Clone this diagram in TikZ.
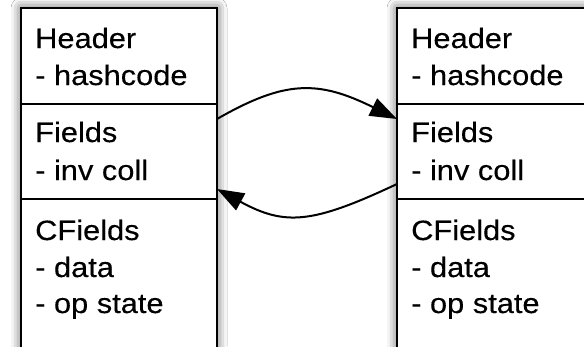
\documentclass[tikz,border=0pt]{standalone}
\usepackage{fontspec}
\setmainfont[FakeStretch=1.1,FakeBold=0.3]{Liberation Sans}
\usetikzlibrary{arrows.meta,shadows.blur}

\begin{document}
\begin{tikzpicture}[x=1pt,y=-1pt,
  objbox/.style={draw=black, line width=2pt, fill=white,
    blur shadow={shadow xshift=0pt, shadow yshift=0pt,
                 shadow blur radius=10pt, shadow opacity=70}},
  part/.style={rectangle, inner sep=0pt, outer sep=0pt},
  divider/.style={draw=black, line width=2pt},
  lbl/.style={anchor=base west, inner sep=0pt, font=\fontsize{28}{32}\selectfont},
  link/.style={draw=black, line width=2pt, -{Triangle[length=27pt,width=19pt]}}]

\useasboundingbox (0,0) rectangle (584,346);
\fill[white] (0,0) rectangle (584,346);

\begin{scope}
\clip (0,0) rectangle (584,346);

% left object: three stacked parts
\node[part, minimum width=196pt, minimum height=96pt]  (lhdr) at (119,56) {};
\node[part, minimum width=196pt, minimum height=95pt]  (lfld) at (119,151.5) {};
\node[part, minimum width=196pt, minimum height=171pt] (lcf)  at (119,284.5) {};

% right object, running past the right edge
\node[part, minimum width=213pt, minimum height=96pt]  (rhdr) at (503.5,56) {};
\node[part, minimum width=213pt, minimum height=95pt]  (rfld) at (503.5,151.5) {};
\node[part, minimum width=213pt, minimum height=171pt] (rcf)  at (503.5,284.5) {};

\path[objbox] (lhdr.north west) rectangle (lcf.south east);
\path[objbox] (rhdr.north west) rectangle (rcf.south east);

\draw[divider] (lfld.north west) -- (lfld.north east);
\draw[divider] (lcf.north west) -- (lcf.north east);
\draw[divider] (rfld.north west) -- (rfld.north east);
\draw[divider] (rcf.north west) -- (rcf.north east);

% left texts
\node[lbl] (lt1) at (35,48)  {Header};
\node[lbl] (lt2) at (35,85)  {- hashcode};
\node[lbl] (lt3) at (35,142) {Fields};
\node[lbl] (lt4) at (35,180) {- inv coll};
\node[lbl] (lt5) at (35,240) {CFields};
\node[lbl] (lt6) at (35,277) {- data};
\node[lbl] (lt7) at (35,313) {- op state};

% right texts
\node[lbl] (rt1) at (411,48)  {Header};
\node[lbl] (rt2) at (411,85)  {- hashcode};
\node[lbl] (rt3) at (411,142) {Fields};
\node[lbl] (rt4) at (411,180) {- inv coll};
\node[lbl] (rt5) at (411,240) {CFields};
\node[lbl] (rt6) at (411,277) {- data};
\node[lbl] (rt7) at (411,313) {- op state};

% references between the two Fields parts
\coordinate (aout) at ([yshift=-15pt]lfld.north east);
\coordinate (ain)  at ([yshift=-15pt]rfld.north west);
\coordinate (bout) at ([yshift=15pt]rfld.south west);
\coordinate (bin)  at ([yshift=10pt]lfld.south east);

\draw[link] (aout) .. controls (285,80) and (318,80) .. (ain);
\draw[link] (bout) .. controls (312,224) and (285,226) .. (bin);
\end{scope}
\end{tikzpicture}
\end{document}
